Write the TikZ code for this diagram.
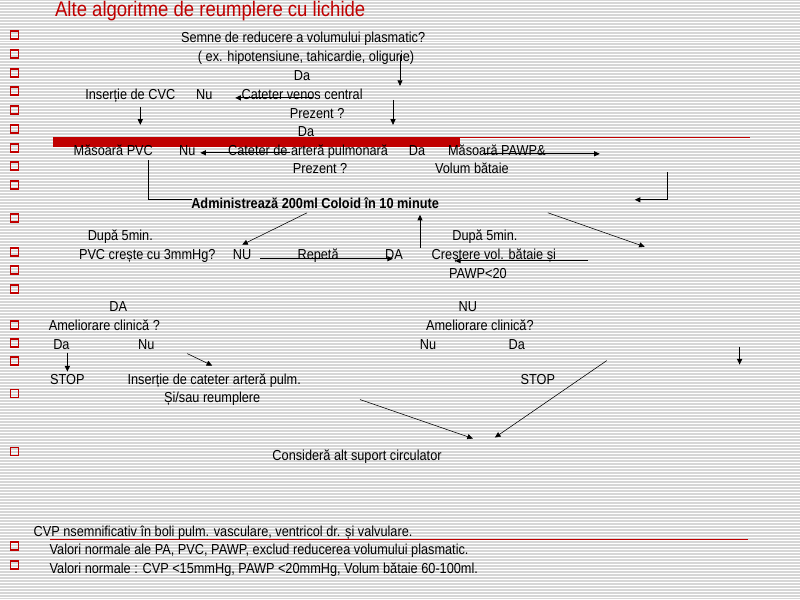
\documentclass[tikz,border=0pt]{standalone}
\usepackage{fontspec}
\setmainfont{Liberation Sans}[FakeStretch=0.88]
\usetikzlibrary{arrows.meta}
\definecolor{slidered}{RGB}{192,0,0}
\definecolor{stripe}{RGB}{214,214,214}

\begin{document}
\begin{tikzpicture}[
  x=0.025cm, y=-0.025cm,
  txt/.style={inner sep=0pt, text height=8.4pt, text depth=0.2pt, font=\fontsize{10.3}{12}\selectfont},
  boldtxt/.style={inner sep=0pt, text height=8.4pt, text depth=0.2pt, font=\fontsize{10.3}{12}\selectfont\bfseries},
  bulletbox/.style={draw=slidered, line width=1.3pt},
  link/.style={->, line width=0.6pt},
  >={Triangle[length=4pt,width=3.6pt]}
]
  % striped slide background
  \fill[stripe] (0,0) rectangle (800,600);
  \foreach \y in {1,4,...,598}
    \draw[white, line width=0.65pt] (0,\y) -- (800,\y);

  % bullets
  \draw[slidered, line width=0.8pt] (10,31) rectangle (18,39);
  \foreach \y in {54,73,91,110,129,148,166,185,218,252,270,289,325,343,361,394,452,547,566}
    \draw[bulletbox] (10,\y-4) rectangle (18,\y+4);

  % red rules
  \fill[slidered] (53,137) rectangle (460,147);
  \draw[slidered, line width=0.7pt] (460,137.5) -- (750,137.5);
  \draw[slidered, line width=0.7pt] (50,540) -- (748,540);

  \node[inner sep=0pt, text=slidered, font=\fontsize{15}{18}\selectfont] (title) at (210,11) {Alte algoritme de reumplere cu lichide};

  \node[txt] (semne) at (303,37) {Semne de reducere a volumului plasmatic?};
  \node[txt] (exemplu) at (306,56) {( ex. hipotensiune, tahicardie, oligurie)};
  \node[txt] (da1) at (302,75) {Da};
  \node[txt] (insCVC) at (130,94) {Inserție de CVC};
  \node[txt] (nu1) at (204,94) {Nu};
  \node[txt] (venos) at (302,94) {Cateter venos central};
  \node[txt] (prez1) at (317,113) {Prezent ?};
  \node[txt] (da2) at (306,131) {Da};

  \node[txt] (masPVC) at (113,150) {Măsoară PVC};
  \node[txt] (nu2) at (187,150) {Nu};
  \node[txt] (arteraP) at (308,150) {Cateter de arteră pulmonară};
  \node[txt] (da3) at (417,150) {Da};
  \node[txt] (masPAWP) at (497,150) {Măsoară PAWP\&};
  \node[txt] (prez2) at (320,168) {Prezent ?};
  \node[txt] (volum) at (472,168) {Volum bătaie};

  \node[boldtxt] (coloid) at (315,203) {Administrează 200ml Coloid în 10 minute};

  \node[txt] (dupa1) at (120,235) {După 5min.};
  \node[txt] (pvcCreste) at (147,254) {PVC crește cu 3mmHg?};
  \node[txt] (nuA) at (242,254) {NU};
  \node[txt] (repeta) at (318,254) {Repetă};
  \node[txt] (daA) at (394,254) {DA};
  \node[txt] (dupa2) at (485,235) {După 5min.};
  \node[txt] (crestere) at (494,254) {Creștere vol. bătaie și};
  \node[txt] (pawp20) at (478,273) {PAWP<20};

  \node[txt] (daB) at (118,306) {DA};
  \node[txt] (nuB) at (468,306) {NU};
  \node[txt] (amel1) at (104,325) {Ameliorare clinică ?};
  \node[txt] (amel2) at (480,325) {Ameliorare clinică?};
  \node[txt] (da4) at (61,344) {Da};
  \node[txt] (nu4) at (146,344) {Nu};
  \node[txt] (nu5) at (428,344) {Nu};
  \node[txt] (da5) at (517,344) {Da};

  \node[txt] (stop1) at (67,379) {STOP};
  \node[txt] (insArt) at (214,379) {Inserție de cateter arteră pulm.};
  \node[txt] (sisau) at (212,397) {Și/sau reumplere};
  \node[txt] (stop2) at (538,379) {STOP};

  \node[txt] (suport) at (357,455) {Consideră alt suport circulator};

  \node[txt, anchor=west] (nota1) at (33,531) {CVP nsemnificativ în boli pulm. vasculare, ventricol dr. și valvulare.};
  \node[txt, anchor=west] (nota2) at (49,549) {Valori normale ale PA, PVC, PAWP, exclud reducerea volumului plasmatic.};
  \node[txt, anchor=west] (nota3) at (49,568) {Valori normale : CVP <15mmHg, PAWP <20mmHg, Volum bătaie 60-100ml.};

  % arrow ends
  \coordinate (a1) at (400,55);  \coordinate (b1) at (400,86);
  \coordinate (a2) at (140,107); \coordinate (b2) at (140,125);
  \coordinate (a3) at (393,100); \coordinate (b3) at (393,125);
  \coordinate (a4) at (313,98);  \coordinate (b4) at (235,98);
  \coordinate (a5) at (290,153); \coordinate (b5) at (200,153);
  \coordinate (a6) at (483,154); \coordinate (b6) at (600,154);
  \coordinate (a7) at (148,160); \coordinate (b7) at (192,200);
  \coordinate (a8) at (668,172); \coordinate (b8) at (635,200);
  \coordinate (a9) at (307,213); \coordinate (b9) at (242,245);
  \coordinate (a10) at (548,213); \coordinate (b10) at (645,247);
  \coordinate (a11) at (420,248); \coordinate (b11) at (420,215);
  \coordinate (a12) at (260,259); \coordinate (b12) at (393,259);
  \coordinate (a13) at (588,261); \coordinate (b13) at (455,261);
  \coordinate (a14) at (67,353);  \coordinate (b14) at (67,372);
  \coordinate (a15) at (187,354); \coordinate (b15) at (212,366);
  \coordinate (a16) at (740,347); \coordinate (b16) at (740,365);
  \coordinate (a17) at (360,400); \coordinate (b17) at (473,439);
  \coordinate (a18) at (607,361); \coordinate (b18) at (495,438);

  \draw[link] (a1) -- (b1);
  \draw[link] (a2) -- (b2);
  \draw[link] (a3) -- (b3);
  \draw[link] (a4) -- (b4);
  \draw[link] (a5) -- (b5);
  \draw[link] (a6) -- (b6);
  \draw[line width=0.6pt] (a7) |- (b7);
  \draw[link] (a8) |- (b8);
  \draw[link, line width=0.4pt] (a9) -- (b9);
  \draw[link, line width=0.4pt] (a10) -- (b10);
  \draw[link] (a11) -- (b11);
  \draw[link] (a12) -- (b12);
  \draw[link] (a13) -- (b13);
  \draw[link] (a14) -- (b14);
  \draw[link, line width=0.4pt] (a15) -- (b15);
  \draw[link] (a16) -- (b16);
  \draw[link, line width=0.4pt] (a17) -- (b17);
  \draw[link, line width=0.4pt] (a18) -- (b18);
\end{tikzpicture}
\end{document}
